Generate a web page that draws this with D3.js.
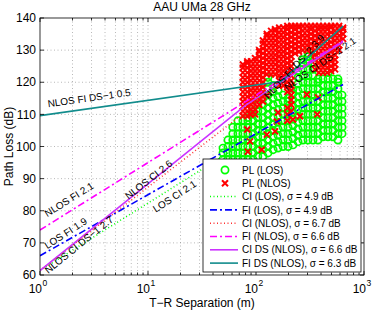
<!DOCTYPE html>
<html>
<head>
<meta charset="utf-8">
<script src="https://cdn.jsdelivr.net/npm/d3@7"></script>
<style>
  body { margin: 0; background: #fff; }
  svg text { font-family: "Liberation Sans", Arial, sans-serif; }
</style>
</head>
<body>
<svg id="chart" width="374" height="311"></svg>
<script>
// Measured path loss (LOS), grouped by T-R distance column: [d (m), [PL (dB), ...]]
const losCols = [
  [49.5, [96, 98, 99.5]],
  [55, [96, 98, 100, 102]],
  [61, [96, 98, 100, 102, 104, 106]],
  [68, [96, 98, 100, 102, 104, 106, 108]],
  [75.6, [96, 98, 100, 102, 104, 106, 108]],
  [84, [96, 98, 100, 102, 104, 106, 108, 109]],
  [94, [96, 98, 100, 102, 104, 106, 108, 110, 111]],
  [104, [97, 99, 101, 103, 105, 107, 109, 111, 113]],
  [116, [97, 99, 101, 103, 105, 107, 109, 111, 113, 115]],
  [129, [98, 100, 102, 104, 106, 108, 110, 112, 114, 116, 118, 120, 121.5]],
  [144, [99, 101, 103, 105, 107, 109, 111, 113, 115, 117, 119]],
  [160, [99.5, 101.5, 103.5, 105.5, 107.5, 109.5, 111.5, 113.5, 115.5, 117.5]],
  [178, [100, 102, 104, 106, 108, 110, 112, 114, 116]],
  [198, [100, 102, 104, 106, 108, 110, 112, 114, 115]],
  [220, [100.5, 102.5, 104.5, 106.5, 108.5, 110.5, 112.5, 114.5, 116.5, 118]],
  [245, [101.5, 103.5, 105.5, 107.5, 109.5, 111.5, 113.5, 115.5, 117.5, 119.5, 121.5, 123.5]],
  [272, [102, 104, 106, 108, 110, 112, 114, 116, 118, 120, 122, 124, 126, 127]],
  [303, [102, 104, 106, 108, 110, 112, 114, 116, 118, 120, 122, 124, 126, 128, 129]],
  [337, [102, 104, 106, 108, 110, 112, 114, 116, 118, 120, 122, 124, 126, 128]],
  [375, [102, 104, 106, 108, 110, 112, 114, 116, 118, 120, 121]],
  [417, [103, 105, 107, 109, 111, 113, 115, 117, 119, 121]],
  [464, [103, 105, 107, 109, 111, 113, 115, 117, 119, 121, 123]],
  [516, [103, 105, 107, 109, 111, 113, 115, 117, 119, 121]],
  [574, [102, 104, 106, 108, 110, 112, 114, 116, 118, 120, 121]],
  [626, [104, 106, 108, 110, 112, 114, 116]]
];

// Measured path loss (NLOS), dense part by distance column
const nlosCols = [
  [75.6, [109.5, 111, 112.5, 114, 115.5, 117, 118.5, 120, 121.5, 123, 124.5, 125.5]],
  [83, [109.5, 111, 112.5, 114, 115.5, 117, 118.5, 120, 121.5, 123, 124.5, 126, 126.5]],
  [90, [110, 111.5, 113, 114.5, 116, 117.5, 119, 120.5, 122, 123.5, 125, 126.5]],
  [98, [110, 111.5, 113, 114.5, 116, 117.5, 119, 120.5, 122, 123.5, 125, 126.5, 127.5]],
  [107, [113, 114.5, 116, 117.5, 119, 120.5, 122, 123.5, 125, 126.5, 128, 129.5, 130]],
  [116, [114, 115.5, 117, 118.5, 120, 121.5, 123, 124.5, 126, 127.5, 129, 130.5, 132, 133]],
  [126, [116, 122.5, 124, 125.5, 127, 128.5, 130, 131.5, 133, 134.5, 135]],
  [138, [122.5, 124, 125.5, 127, 128.5, 130, 131.5, 133, 134.5, 136]],
  [150, [122.5, 124, 125.5, 127, 128.5, 130, 131.5, 133, 134.5, 136, 136.5]],
  [164, [119, 120.5, 122, 123.5, 125, 126.5, 128, 129.5, 131, 132.5, 134, 135.5, 137]],
  [178, [119, 120.5, 122, 123.5, 125, 126.5, 128, 129.5, 131, 132.5, 134, 135.5, 137]],
  [195, [108, 110, 112, 117, 118.5, 120, 121.5, 123, 124.5, 126, 127.5, 129, 130.5, 132, 133.5, 135, 136.5, 137.5]],
  [212, [111, 113, 114.5, 116, 117.5, 119, 120.5, 122, 123.5, 125, 126.5, 128, 129.5, 131, 132.5, 134, 135.5, 137, 137.5]],
  [230, [129, 130.5, 132, 133.5, 135, 136.5, 137.5]],
  [250, [129.5, 131, 132.5, 134, 135.5, 137, 137.5]],
  [272, [130, 131.5, 133, 134.5, 136, 137.5]],
  [296, [130, 131.5, 133, 134.5, 136, 137.5]],
  [323, [129, 130.5, 132, 133.5, 135, 136.5, 137.5]],
  [352, [124, 125.5, 127, 128.5, 130, 131.5, 133, 134.5, 136, 137.5]],
  [383, [123, 124.5, 126, 127.5, 129, 130.5, 132, 133.5, 135, 136.5, 137.5]],
  [417, [123, 124.5, 126, 127.5, 129, 130.5, 132, 133.5, 135, 136.5, 137.5]],
  [455, [123, 124.5, 126, 127.5, 129, 130.5, 132, 133.5, 135, 136.5, 137.5]],
  [495, [123.5, 125, 126.5, 128, 129.5, 131, 132.5, 134, 135.5, 137, 137.5]],
  [540, [124, 125.5, 127, 128.5, 130, 131.5, 133, 134.5, 136, 137.5]],
  [588, [130, 131.5, 133, 134.5, 136, 137.5]],
  [640, [133.5, 135, 136.5, 137]]
];

// NLOS samples lying inside the LOS cloud: [d, PL]
const nlosScatter = [
  [88, 110], [83, 105.3], [88, 101.6], [84, 98.4], [113, 99], [126, 103.7],
  [150, 104.7], [160, 110.6], [156, 107.8], [220, 108.4], [255, 109.4],
  [296, 116.2], [369, 110], [375, 115.3]
];

// Fitted models, as [d, PL] vertices
const ciLos = [[1, 61.4], [640, 120.3]];
const fiLos = [[1, 66], [640, 119.3]];
const ciNlos = [[1, 61.4], [640, 134.2]];
const fiNlos = [[1, 74], [640, 132.9]];
const ciDsNlos = [[1, 61.4], [80, 112.8], [640, 132.6]];
const fiDsNlos = [[1, 109.6], [170, 120.2], [640, 137.5]];

// Line annotations: [text, d, PL, angle]
const lineLabels = [
  ["NLOS FI DS\u22121 0.5", 1.19, 112.2, -8],
  ["NLOS FI DS\u22122 3.9", 130, 114.6, -47],
  ["NLOS CI DS\u22122 2.1", 195, 117.3, -35],
  ["NLOS FI 2.1", 1.17, 78, -32],
  ["LOS FI 1.9", 1.17, 68, -33],
  ["NLOS CI DS\u22121 2.7", 1.19, 60.3, -39],
  ["NLOS CI 2.6", 6.6, 83.4, -38],
  ["LOS CI 2.1", 11.8, 79.4, -33]
];

const legendNames = [
  "PL (LOS)", "PL (NLOS)",
  "CI (LOS), \u03c3 = 4.9 dB", "FI (LOS), \u03c3 = 4.9 dB",
  "CI (NLOS), \u03c3 = 6.7 dB", "FI (NLOS), \u03c3 = 6.6 dB",
  "CI DS (NLOS), \u03c3 = 6.6 dB", "FI DS (NLOS), \u03c3 = 6.3 dB"
];

const xTicks = [1, 10, 100, 1000];
const yTicks = [60, 70, 80, 90, 100, 110, 120, 130, 140];

const svg = d3.select('#chart');
const plotLeft = 40, plotRight = 364, plotTop = 18, plotBottom = 275;

const x = d3.scaleLog().domain([1, 1000]).range([plotLeft, plotRight]);
const y = d3.scaleLinear().domain([60, 140]).range([plotBottom, plotTop]);

// minor decade ticks for the log axis
const minorTicks = [];
for (let e = 0; e < 3; e++) {
  for (let k = 2; k <= 9; k++) minorTicks.push(k * Math.pow(10, e));
}

// grid
const grid = svg.append('g').attr('stroke', '#8a8a8a').attr('stroke-width', 0.6)
  .attr('stroke-dasharray', '1,2.5');
grid.selectAll('.gx').data(minorTicks.concat(xTicks.slice(1, 3))).enter().append('line')
  .attr('x1', d => x(d)).attr('x2', d => x(d)).attr('y1', plotTop).attr('y2', plotBottom);
grid.selectAll('.gy').data(yTicks.slice(1, -1)).enter().append('line')
  .attr('x1', plotLeft).attr('x2', plotRight).attr('y1', d => y(d)).attr('y2', d => y(d));

svg.append('clipPath').attr('id', 'plot-clip').append('rect')
  .attr('x', plotLeft).attr('y', plotTop).attr('width', plotRight - plotLeft).attr('height', plotBottom - plotTop);

const plot = svg.append('g').attr('clip-path', 'url(#plot-clip)');

// scatter
const losPts = losCols.flatMap(c => c[1].map(v => [c[0], v]));
const nlosPts = nlosCols.flatMap(c => c[1].map(v => [c[0], v])).concat(nlosScatter);

plot.append('g').selectAll('circle').data(losPts).enter().append('circle')
  .attr('cx', d => x(d[0])).attr('cy', d => y(d[1])).attr('r', 3.6)
  .attr('fill', 'none').attr('stroke', '#00ff00').attr('stroke-width', 1.7);

const xs = 3;
const xMark = `M${-xs},${-xs}L${xs},${xs}M${-xs},${xs}L${xs},${-xs}`;
plot.append('g').selectAll('path').data(nlosPts).enter().append('path')
  .attr('transform', d => `translate(${x(d[0])},${y(d[1])})`)
  .attr('d', xMark).attr('stroke', '#ff0000').attr('stroke-width', 2);

// fit lines
const line = d3.line().x(d => x(d[0])).y(d => y(d[1]));
const fits = [
  { data: ciLos, color: '#00ff00', dash: '1,2.5', w: 1.5 },
  { data: fiLos, color: '#0000ff', dash: '7,3,2,3', w: 1.6 },
  { data: ciNlos, color: '#ff3030', dash: '1,2.5', w: 1.5 },
  { data: fiNlos, color: '#ff00ff', dash: '7,3,2,3', w: 1.6 },
  { data: ciDsNlos, color: '#cc33ff', dash: null, w: 1.6 },
  { data: fiDsNlos, color: '#118c8c', dash: null, w: 1.6 }
];
plot.selectAll('.fit').data(fits).enter().append('path')
  .attr('class', 'fit')
  .attr('d', d => line(d.data))
  .attr('fill', 'none')
  .attr('stroke', d => d.color)
  .attr('stroke-width', d => d.w)
  .attr('stroke-dasharray', d => d.dash);

// line labels
svg.append('g').selectAll('text').data(lineLabels).enter().append('text')
  .attr('transform', d => `translate(${x(d[1])},${y(d[2])}) rotate(${d[3]})`)
  .attr('font-size', 10).attr('fill', '#000')
  .text(d => d[0]);

// axes box and ticks
const axes = svg.append('g').attr('stroke', '#000').attr('stroke-width', 0.8);
axes.append('rect').attr('x', plotLeft).attr('y', plotTop)
  .attr('width', plotRight - plotLeft).attr('height', plotBottom - plotTop)
  .attr('fill', 'none');
axes.selectAll('.xt').data(xTicks).enter().append('path')
  .attr('d', d => `M${x(d)},${plotBottom}v-4M${x(d)},${plotTop}v4`);
axes.selectAll('.xm').data(minorTicks).enter().append('path')
  .attr('d', d => `M${x(d)},${plotBottom}v-2.5M${x(d)},${plotTop}v2.5`);
axes.selectAll('.yt').data(yTicks).enter().append('path')
  .attr('d', d => `M${plotLeft},${y(d)}h4M${plotRight},${y(d)}h-4`);

// tick labels
svg.append('g').selectAll('text').data(yTicks).enter().append('text')
  .attr('x', plotLeft - 4).attr('y', d => y(d) + 4.2)
  .attr('text-anchor', 'end').attr('font-size', 12)
  .text(d => d);

const xl = svg.append('g').selectAll('g').data(xTicks).enter().append('g')
  .attr('transform', d => `translate(${x(d)},293)`);
xl.append('text').attr('text-anchor', 'end').attr('x', 2).attr('font-size', 12).text('10');
xl.append('text').attr('x', 2.5).attr('y', -7).attr('font-size', 8.5).text((d, i) => i);

svg.append('text').attr('x', 202).attr('y', 307).attr('text-anchor', 'middle')
  .attr('font-size', 12).text('T\u2212R Separation (m)');
svg.append('text').attr('transform', `translate(13,${(plotTop + plotBottom) / 2}) rotate(-90)`)
  .attr('text-anchor', 'middle').attr('font-size', 12).text('Path Loss (dB)');
svg.append('text').attr('x', (plotLeft + plotRight) / 2).attr('y', 11).attr('text-anchor', 'middle')
  .attr('font-size', 12).text('AAU UMa 28 GHz');

// legend
const lg = svg.append('g');
lg.append('rect').attr('x', 203).attr('y', 159).attr('width', 158).attr('height', 113)
  .attr('fill', '#fff').attr('stroke', '#000').attr('stroke-width', 0.8);
const rows = lg.selectAll('.row').data(legendNames).enter().append('g')
  .attr('transform', (d, i) => `translate(0,${170 + i * 13.3})`);
rows.append('text').attr('x', 242).attr('y', 3.6).attr('font-size', 10).text(d => d);
rows.filter((d, i) => i === 0).append('circle').attr('cx', 225).attr('r', 3.6)
  .attr('fill', 'none').attr('stroke', '#00ff00').attr('stroke-width', 1.7);
rows.filter((d, i) => i === 1).append('path').attr('transform', 'translate(225,0)')
  .attr('d', xMark).attr('stroke', '#ff0000').attr('stroke-width', 2);
rows.filter((d, i) => i >= 2).append('line')
  .attr('x1', 210).attr('x2', 238)
  .attr('stroke', (d, i) => fits[i + 0].color)
  .attr('stroke-width', (d, i) => fits[i].w)
  .attr('stroke-dasharray', (d, i) => fits[i].dash);
</script>
</body>
</html>
